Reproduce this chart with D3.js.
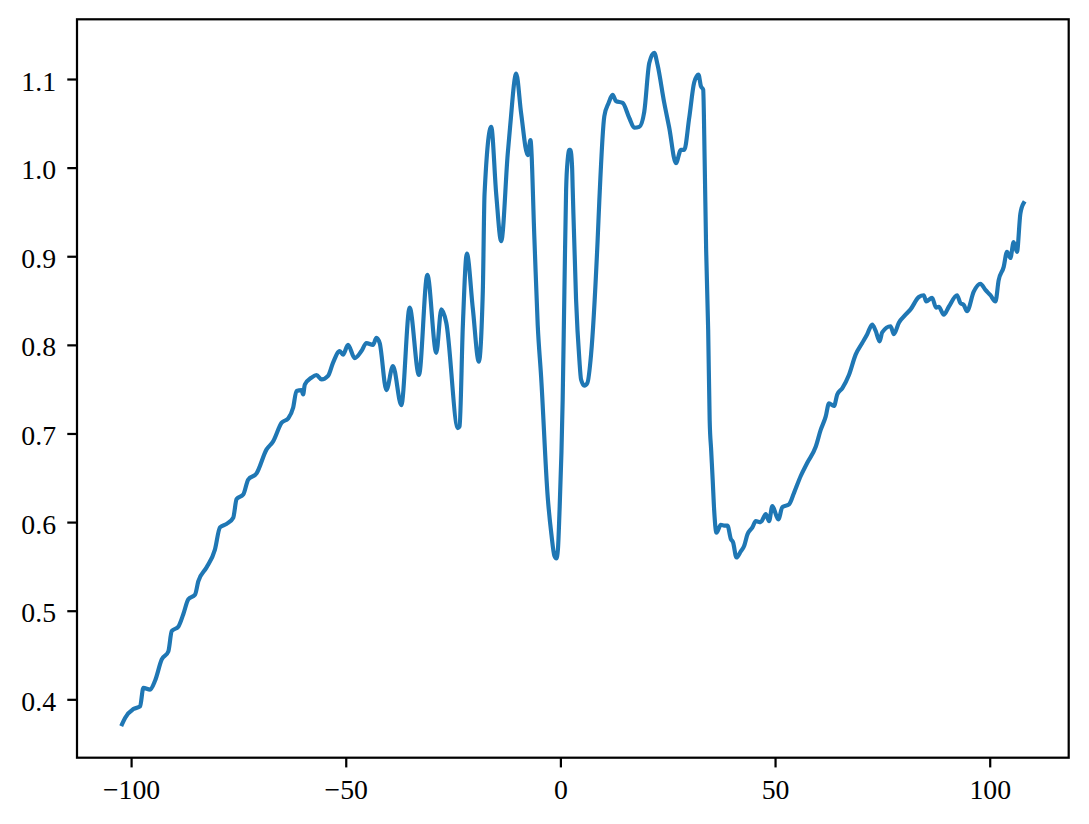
<!DOCTYPE html>
<html>
<head>
<meta charset="utf-8">
<script src="https://cdn.jsdelivr.net/npm/d3@7"></script>
<style>
  html, body { margin: 0; padding: 0; background: #ffffff; }
  svg { display: block; }
  .tick text { font-family: "Liberation Serif", "DejaVu Serif", serif; }
</style>
</head>
<body>
<svg id="chart" width="1089" height="824"></svg>
<script>
// ---- data ----
const xValues = [
  -102.1, -101.4, -99.47, -97.91, -97.14, -95.58, -94.42, -92.86, -91.33, -90.53,
  -89.00, -87.84, -86.67, -85.12, -84.35, -82.40, -80.47, -79.30, -77.74, -76.21,
  -75.42, -73.88, -72.72, -70.77, -68.44, -66.91, -64.95, -63.42, -62.26, -61.47,
  -60.30, -59.93, -59.53, -57.98, -56.81, -55.65, -54.12, -52.95, -51.40, -50.63,
  -49.47, -47.91, -46.35, -45.19, -43.65, -42.86, -42.09, -40.53, -39.00, -37.05,
  -35.12, -32.95, -31.00, -28.91, -27.74, -26.58, -23.88, -23.49, -22.72, -21.79,
  -20.40, -19.00, -18.07, -17.67, -16.12, -14.95, -13.79, -12.26, -11.70, -10.30,
  -9.14, -7.60, -6.98, -6.05, -5.28, -4.49, -2.95, -2.09, -1.40, -0.93,
  -0.58, -0.23, 0.53, 0.93, 1.33, 1.70, 2.09, 2.33, 2.72, 2.86,
  3.65, 4.42, 4.81, 5.58, 6.28, 7.14, 8.67, 9.07, 10.23, 11.23,
  12.16, 12.95, 14.49, 16.05, 17.21, 18.37, 19.53, 20.70, 21.86, 22.63,
  24.19, 25.35, 26.91, 28.07, 28.84, 30.00, 31.16, 32.16, 32.72, 33.26,
  33.60, 33.95, 34.42, 34.77, 35.12, 35.47, 35.81, 36.35, 37.37, 38.14,
  38.91, 39.70, 40.23, 41.00, 42.02, 42.79, 43.56, 44.72, 45.51, 46.67,
  47.84, 48.60, 49.37, 50.77, 51.70, 53.26, 54.42, 55.98, 57.51, 59.47,
  60.63, 61.79, 62.56, 63.72, 64.49, 65.65, 67.21, 68.77, 70.30, 71.47,
  72.63, 73.42, 74.35, 74.95, 76.91, 77.67, 78.84, 80.40, 81.56, 83.49,
  84.65, 85.19, 86.58, 87.51, 88.14, 89.30, 90.47, 92.40, 93.19, 93.95,
  94.72, 96.28, 97.84, 99.00, 100.16, 101.33, 102.09, 103.26, 104.02, 104.81,
  105.58, 106.35, 107.14, 107.9
];
const yValues = [
  0.372, 0.379, 0.389, 0.392, 0.413, 0.411, 0.421, 0.445, 0.454, 0.477,
  0.482, 0.496, 0.513, 0.518, 0.533, 0.549, 0.569, 0.594, 0.598, 0.605,
  0.626, 0.631, 0.648, 0.655, 0.682, 0.691, 0.712, 0.717, 0.729, 0.748,
  0.749, 0.744, 0.755, 0.763, 0.766, 0.761, 0.765, 0.780, 0.793, 0.789,
  0.800, 0.785, 0.793, 0.802, 0.800, 0.808, 0.802, 0.749, 0.776, 0.732,
  0.842, 0.766, 0.879, 0.791, 0.840, 0.825, 0.706, 0.708, 0.822, 0.903,
  0.841, 0.781, 0.861, 0.970, 1.046, 0.970, 0.917, 1.016, 1.047, 1.106,
  1.061, 1.014, 1.031, 0.919, 0.822, 0.764, 0.628, 0.586, 0.562, 0.559,
  0.569, 0.609, 0.738, 0.860, 0.975, 1.009, 1.020, 1.020, 1.001, 0.977,
  0.851, 0.783, 0.761, 0.754, 0.757, 0.789, 0.918, 0.963, 1.058, 1.073,
  1.082, 1.075, 1.073, 1.056, 1.045, 1.046, 1.063, 1.118, 1.1295, 1.116,
  1.073, 1.045, 1.005, 1.020, 1.020, 1.056, 1.096, 1.105, 1.092, 1.088,
  1.009, 0.907, 0.817, 0.715, 0.681, 0.648, 0.614, 0.588, 0.597, 0.596,
  0.596, 0.581, 0.577, 0.560, 0.567, 0.573, 0.586, 0.594, 0.601, 0.600,
  0.609, 0.601, 0.618, 0.603, 0.617, 0.620, 0.633, 0.652, 0.667, 0.685,
  0.704, 0.719, 0.734, 0.731, 0.744, 0.751, 0.766, 0.789, 0.802, 0.812,
  0.823, 0.816, 0.804, 0.814, 0.821, 0.812, 0.825, 0.834, 0.840, 0.854,
  0.856, 0.849, 0.853, 0.842, 0.843, 0.834, 0.843, 0.856, 0.847, 0.845,
  0.838, 0.860, 0.869, 0.862, 0.856, 0.849, 0.873, 0.888, 0.905, 0.898,
  0.916, 0.905, 0.948, 0.960
];
const xTicks = [-100, -50, 0, 50, 100];
const xTickLabels = ["\u2212100", "\u221250", "0", "50", "100"];
const yTicks = [0.4, 0.5, 0.6, 0.7, 0.8, 0.9, 1.0, 1.1];
const yTickLabels = ["0.4", "0.5", "0.6", "0.7", "0.8", "0.9", "1.0", "1.1"];

// ---- layout ----
const W = 1089, H = 824;
const margin = { left: 77, top: 19.3, right: 20.3, bottom: 66.3 };
const plotW = W - margin.left - margin.right;
const plotH = H - margin.top - margin.bottom;
const dpiScale = 200 / 72;           // pt -> px
const lineW = 1.5 * dpiScale;
const axisW = 0.8 * dpiScale;
const tickLen = 3.5 * dpiScale;
const tickPad = 3.5 * dpiScale;
const fontSize = 10 * dpiScale;

const data = xValues.map((x, i) => ({ x, y: yValues[i] }));

function padded(ext) {
  const r = ext[1] - ext[0];
  return [ext[0] - 0.05 * r, ext[1] + 0.05 * r];
}
const x = d3.scaleLinear().domain(padded(d3.extent(xValues))).range([0, plotW]);
const y = d3.scaleLinear().domain(padded(d3.extent(yValues))).range([plotH, 0]);

const svg = d3.select("#chart");
svg.append("rect").attr("width", W).attr("height", H).attr("fill", "#ffffff");
const g = svg.append("g").attr("transform", `translate(${margin.left},${margin.top})`);

// clip
g.append("clipPath").attr("id", "clip")
  .append("rect").attr("width", plotW).attr("height", plotH);

// line
const line = d3.line().curve(d3.curveMonotoneX).x(d => x(d.x)).y(d => y(d.y));
g.append("path")
  .datum(data)
  .attr("clip-path", "url(#clip)")
  .attr("fill", "none")
  .attr("stroke", "#1f77b4")
  .attr("stroke-width", lineW)
  .attr("stroke-linejoin", "round")
  .attr("stroke-linecap", "square")
  .attr("d", line);

// axes
const xAxis = d3.axisBottom(x)
  .tickValues(xTicks)
  .tickFormat((d, i) => xTickLabels[i])
  .tickSize(tickLen).tickSizeOuter(0).tickPadding(tickPad);
const yAxis = d3.axisLeft(y)
  .tickValues(yTicks)
  .tickFormat((d, i) => yTickLabels[i])
  .tickSize(tickLen).tickSizeOuter(0).tickPadding(tickPad);

const gx = g.append("g").attr("transform", `translate(0,${plotH})`).call(xAxis);
const gy = g.append("g").call(yAxis);

[gx, gy].forEach(ax => {
  ax.select(".domain").remove();
  ax.selectAll(".tick line").attr("stroke", "#000").attr("stroke-width", axisW);
  ax.selectAll(".tick text")
    .attr("fill", "#000")
    .style("font-size", fontSize + "px");
});
gx.selectAll(".tick text").attr("dy", null).attr("y", tickLen + tickPad + 21.5);
gy.selectAll(".tick text").attr("dy", null).attr("y", 11.0).attr("x", -(tickLen + tickPad + 1.5));

// frame
g.append("rect")
  .attr("width", plotW).attr("height", plotH)
  .attr("fill", "none")
  .attr("stroke", "#000")
  .attr("stroke-width", axisW)
  .attr("stroke-linejoin", "miter");
</script>
</body>
</html>
